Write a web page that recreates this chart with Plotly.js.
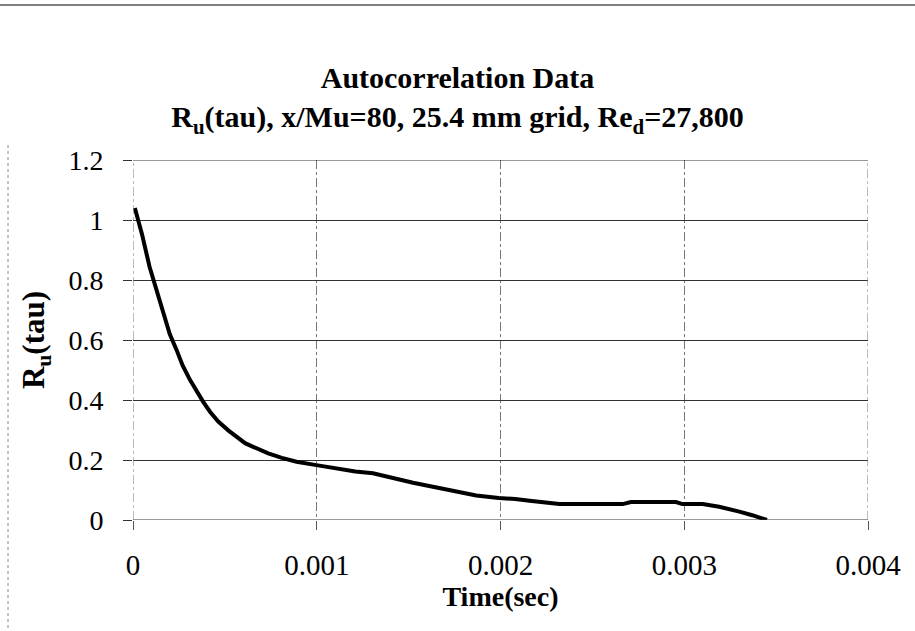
<!DOCTYPE html>
<html>
<head>
<meta charset="utf-8">
<script src="https://cdn.plot.ly/plotly-3.0.1.min.js"></script>
<style>html,body{margin:0;padding:0;background:#fff;}#chart{width:915px;height:631px;}</style>
</head>
<body>
<div id="chart"></div>
<script>
// Time lag (sec)
const timeSec = [0.00001, 0.00005, 0.00009, 0.00013, 0.000165, 0.0002, 0.000237, 0.00027, 0.00031, 0.00035,
  0.000382, 0.00042, 0.000464, 0.00052, 0.000572, 0.00061, 0.000654, 0.0007, 0.000736, 0.00081, 0.00089,
  0.000998, 0.001125, 0.00121, 0.001306, 0.001415, 0.001524, 0.001632, 0.001759, 0.001868, 0.00199,
  0.00208, 0.002158, 0.00224, 0.00232, 0.0025, 0.002665, 0.00271, 0.00285, 0.002955, 0.00299, 0.0031,
  0.00319, 0.00325, 0.0033, 0.00337, 0.003435, 0.00345];
// Autocorrelation coefficient R_u(tau)
const ruTau = [1.04, 0.95, 0.844, 0.76, 0.689, 0.62, 0.567, 0.515, 0.467, 0.425,
  0.394, 0.36, 0.328, 0.298, 0.272, 0.256, 0.244, 0.232, 0.222, 0.207, 0.194,
  0.183, 0.169, 0.162, 0.156, 0.139, 0.124, 0.111, 0.096, 0.082, 0.073,
  0.07, 0.064, 0.06, 0.053, 0.053, 0.053, 0.06, 0.06, 0.06, 0.053, 0.053,
  0.044, 0.036, 0.028, 0.016, 0.004, 0.0];
const xTicks = [0, 0.001, 0.002, 0.003, 0.004];
const xTickLabels = ["0", "0.001", "0.002", "0.003", "0.004"];
const yTicks = [0, 0.2, 0.4, 0.6, 0.8, 1, 1.2];
const yTickLabels = ["0", "0.2", "0.4", "0.6", "0.8", "1", "1.2"];

const serif = "Liberation Serif, Times New Roman, serif";
const xMin = 0, xMax = 0.004, yMin = 0, yMax = 1.2;

const trace = {
  x: timeSec, y: ruTau, type: "scatter", mode: "lines",
  line: {color: "#000", width: 4, shape: "linear"},
  hoverinfo: "skip", showlegend: false
};

const layout = {
  width: 915, height: 631,
  margin: {l: 133, r: 47, t: 160, b: 111},
  paper_bgcolor: "#fff", plot_bgcolor: "#fff",
  title: {
    text: "<b>Autocorrelation Data</b><br><b>R<sub>u</sub>(tau), x/Mu=80, 25.4 mm grid, Re<sub>d</sub>=27,800</b>",
    font: {family: serif, size: 30, color: "#000"},
    x: 0.5, xanchor: "center", y: 0.86, yanchor: "middle", yref: "container"
  },
  xaxis: {
    range: [xMin, xMax], tickvals: xTicks, ticktext: xTickLabels,
    showgrid: true, gridcolor: "#777", griddash: "dashdot", gridwidth: 1,
    zeroline: false, showline: false,
    ticks: "outside", ticklen: 9, tickcolor: "#555", tickwidth: 1,
    ticklabelstandoff: 10,
    tickfont: {family: serif, size: 29, color: "#000"},
    title: {text: "<b>Time(sec)</b>", font: {family: serif, size: 28, color: "#000"}, standoff: 2},
    fixedrange: true
  },
  yaxis: {
    range: [yMin, yMax], tickvals: yTicks, ticktext: yTickLabels,
    showgrid: true, gridcolor: "#333", gridwidth: 1,
    zeroline: false, showline: false,
    ticks: "outside", ticklen: 9, tickcolor: "#333", tickwidth: 1,
    ticklabelstandoff: 14,
    tickfont: {family: serif, size: 28, color: "#000"},
    title: {text: "<b>R<sub>u</sub>(tau)</b>", font: {family: serif, size: 31, color: "#000"}, standoff: 14},
    fixedrange: true
  },
  shapes: [
    {type: "line", xref: "x", yref: "y", x0: xMin, x1: xMax, y0: yMin, y1: yMin, line: {color: "#333", width: 1}},
    {type: "line", xref: "x", yref: "y", x0: xMin, x1: xMax, y0: yMax, y1: yMax, line: {color: "#333", width: 1}},
    {type: "line", xref: "x", yref: "y", x0: xMin, x1: xMin, y0: yMin, y1: yMax, line: {color: "#777", width: 1, dash: "dashdot"}},
    {type: "line", xref: "x", yref: "y", x0: xMax, x1: xMax, y0: yMin, y1: yMax, line: {color: "#777", width: 1, dash: "dashdot"}}
  ]
};

// top border and left dashed border of the scanned chart area
const pw = 915 - 133 - 47, ph = 631 - 160 - 111;
function px(x) { return (x - 133) / pw; }
function py(y) { return (631 - 111 - y) / ph; }
layout.shapes.push({type: "line", xref: "paper", yref: "paper", x0: px(0), x1: px(915), y0: py(5), y1: py(5), line: {color: "#555", width: 1.5}});
layout.shapes.push({type: "line", xref: "paper", yref: "paper", x0: px(8), x1: px(8), y0: py(145), y1: py(631), line: {color: "#888", width: 1, dash: "dot"}});

Plotly.newPlot("chart", [trace], layout, {displayModeBar: false, staticPlot: true});
</script>
</body>
</html>
